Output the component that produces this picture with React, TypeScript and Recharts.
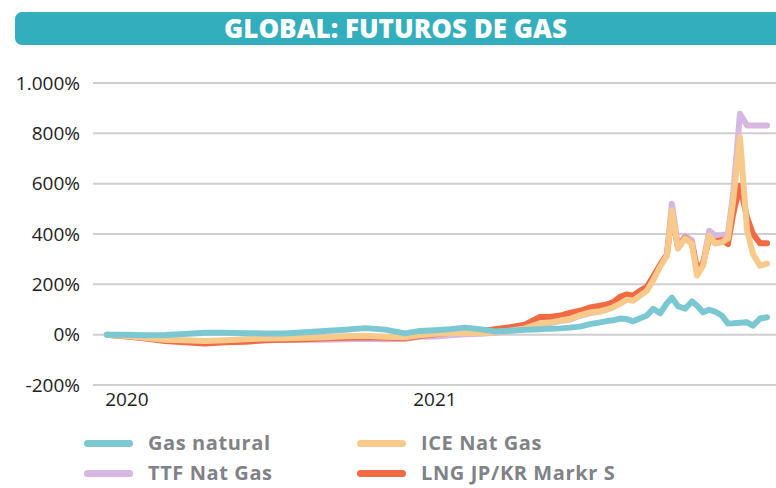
import React from "react";
import { LineChart, Line, XAxis, YAxis, CartesianGrid } from "recharts";

// fechas en años decimales (semanas aproximadas)
const fechas = [
  2019.935, 2019.994, 2020.058, 2020.123, 2020.188, 2020.253, 2020.318, 2020.383, 2020.448, 2020.513,
  2020.578, 2020.643, 2020.708, 2020.773, 2020.838, 2020.903, 2020.951, 2021.0, 2021.049, 2021.097,
  2021.146, 2021.195, 2021.244, 2021.292, 2021.341, 2021.373, 2021.406, 2021.438, 2021.471, 2021.503,
  2021.536, 2021.558, 2021.578, 2021.601, 2021.623, 2021.643, 2021.666, 2021.688, 2021.708, 2021.731,
  2021.753, 2021.769, 2021.789, 2021.812, 2021.834, 2021.851, 2021.87, 2021.89, 2021.909, 2021.932,
  2021.951, 2021.968, 2021.99, 2022.013, 2022.032, 2022.055, 2022.078,
];

const gasNatural = [
  0, 0, -2, -1, 3, 8, 8, 6, 5, 5,
  10, 15, 20, 26, 20, 5, 15, 18, 22, 28,
  22, 13, 16, 20, 22, 24, 25, 28, 32, 42,
  49, 54, 57, 64, 62, 53, 65, 76, 103, 85,
  125, 147, 113, 103, 132, 115, 89, 99, 92, 75,
  44, 45, 47, 49, 36, 64, 69,
];

const iceNatGas = [
  0, -5, -12, -20, -22, -25, -22, -18, -15, -14,
  -12, -10, -6, -4, -8, -10, -2, 4, 6, 8,
  6, 10, 16, 25, 45, 48, 56, 62, 78, 88,
  93, 100, 109, 123, 139, 135, 155, 175, 215, 270,
  314, 493, 342, 382, 362, 235, 274, 394, 362, 367,
  382, 533, 785, 414, 322, 274, 282,
];

const ttfNatGas = [
  0, -6, -14, -22, -28, -30, -28, -26, -22, -20,
  -20, -20, -18, -16, -18, -16, -8, -7, -2, 2,
  4, 8, 15, 24, 42, 46, 54, 60, 75, 86,
  92, 100, 110, 128, 142, 138, 160, 180, 225, 275,
  318, 520, 350, 392, 375, 245, 280, 413, 395, 395,
  401, 560, 878, 831, 831, 831, 831,
];

const lngJpKr = [
  0, -6, -14, -25, -30, -35, -30, -28, -22, -20,
  -18, -14, -12, -10, -12, -14, -5, 2, 8, 12,
  14, 22, 30, 40, 70, 70, 76, 86, 95, 108,
  115, 120, 128, 150, 160, 155, 175, 190, 230, 278,
  318, 480, 345, 385, 362, 260, 285, 380, 370, 375,
  360, 480, 592, 466, 401, 363, 363,
];

const yTicks = [-200, 0, 200, 400, 600, 800, 1000];
const xTicks = [2020, 2021];

const series = [
  { key: "ttf", name: "TTF Nat Gas", color: "#D5B7E2" },
  { key: "lng", name: "LNG JP/KR Markr S", color: "#F26A44" },
  { key: "ice", name: "ICE Nat Gas", color: "#F7CA8B" },
  { key: "gas", name: "Gas natural", color: "#7CC8D2" },
];

const legendOrder = ["gas", "ice", "ttf", "lng"];

const data = fechas.map((t, i) => ({
  t,
  gas: gasNatural[i],
  ice: iceNatGas[i],
  ttf: ttfNatGas[i],
  lng: lngJpKr[i],
}));

const fmtPct = (v: number) =>
  (Math.abs(v) >= 1000 ? String(v).replace(/(\d)(\d{3})$/, "$1.$2") : String(v)) + "%";

function LegendBox() {
  return (
    <div
      style={{
        position: "absolute",
        left: 84,
        top: 433,
        display: "grid",
        gridTemplateColumns: "273px 260px",
        rowGap: 10,
        fontFamily: "'Open Sans', sans-serif",
        fontWeight: 700,
        fontSize: 20,
        letterSpacing: 0.6,
        color: "#818286",
      }}
    >
      {legendOrder.map((k) => {
        const s = series.find((x) => x.key === k)!;
        return (
          <div key={k} style={{ display: "flex", alignItems: "center", height: 20, lineHeight: "20px" }}>
            <span
              style={{
                display: "inline-block",
                width: 49,
                height: 7,
                borderRadius: 4,
                background: s.color,
                marginRight: 15,
              }}
            />
            {s.name}
          </div>
        );
      })}
    </div>
  );
}

export default function App() {
  return (
    <div style={{ position: "absolute", left: 0, top: 0, width: 776, height: 488, background: "#fff" }}>
      <div
        style={{
          position: "absolute",
          left: 15,
          top: 12,
          width: 770,
          height: 33,
          background: "#32AEBD",
          borderRadius: 7,
          color: "#fff",
          fontFamily: "'Open Sans', sans-serif",
          fontWeight: 800,
          fontSize: 26,
          lineHeight: "33px",
          textAlign: "center",
          paddingRight: 9,
          boxSizing: "border-box",
        }}
      >
        GLOBAL: FUTUROS DE GAS
      </div>
      <LineChart width={776} height={488} data={data} margin={{ top: 83, right: 0, bottom: 58, left: 0 }}>
        <CartesianGrid vertical={false} stroke="#cfcfcf" strokeWidth={2} />
        <XAxis
          dataKey="t"
          type="number"
          domain={[2019.89, 2022.107]}
          ticks={xTicks}
          tickFormatter={(v) => String(v)}
          axisLine={false}
          tickLine={false}
          height={45}
          tick={{ fill: "#222", fontSize: 19, fontFamily: "'Open Sans', sans-serif" }}
          allowDataOverflow
        />
        <YAxis
          domain={[-200, 1000]}
          ticks={yTicks}
          tickFormatter={fmtPct}
          axisLine={false}
          tickLine={false}
          width={93}
          tickMargin={7}
          tick={{ fill: "#222", fontSize: 19, fontFamily: "'Open Sans', sans-serif" }}
        />
        {series.map((s) => (
          <Line
            key={s.key}
            dataKey={s.key}
            name={s.name}
            stroke={s.color}
            strokeWidth={6}
            strokeLinejoin="round"
            strokeLinecap="round"
            dot={false}
            activeDot={false}
            isAnimationActive={false}
          />
        ))}
      </LineChart>
      <LegendBox />
    </div>
  );
}
